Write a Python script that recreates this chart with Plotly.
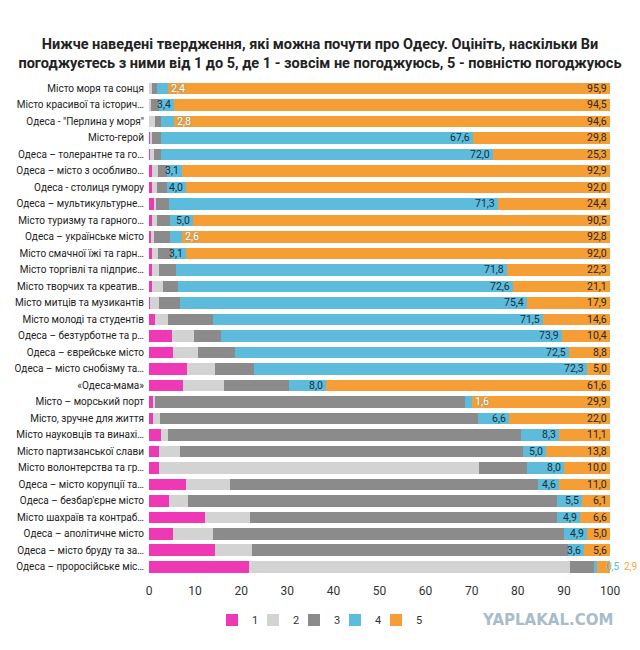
import plotly.graph_objects as go

categories = [
    "Місто моря та сонця",
    "Місто красивої та історич…",
    "Одеса - \"Перлина у моря\"",
    "Місто-герой",
    "Одеса – толерантне та го…",
    "Одеса – місто з особливо…",
    "Одеса - столиця гумору",
    "Одеса – мультикультурне…",
    "Місто туризму та гарного…",
    "Одеса – українське місто",
    "Місто смачної їжі та гарн…",
    "Місто торгівлі та підприє…",
    "Місто творчих та креатив…",
    "Місто митців та музикантів",
    "Місто молоді та студентів",
    "Одеса – безтурботне та р…",
    "Одеса – єврейське місто",
    "Одеса – місто снобізму та…",
    "«Одеса-мама»",
    "Місто – морський порт",
    "Місто, зручне для життя",
    "Місто науковців та винахі…",
    "Місто партизанської слави",
    "Місто волонтерства та гр…",
    "Одеса – місто корупції та…",
    "Одеса – безбар'єрне місто",
    "Місто шахраїв та контраб…",
    "Одеса – аполітичне місто",
    "Одеса – місто бруду та за…",
    "Одеса – проросійське міс…",
]

score_1 = [0.1, 0.0, 0.1, 0.3, 0.3, 0.7, 0.7, 1.0, 0.6, 0.6, 0.7, 0.6, 0.6, 0.3, 1.4,
           5.0, 5.3, 8.2, 7.4, 1.0, 0.9, 2.6, 2.2, 2.2, 8.0, 4.3, 12.2, 5.2, 14.3, 21.7]
score_2 = [0.6, 0.5, 1.1, 0.4, 0.7, 1.2, 1.1, 0.6, 1.2, 0.4, 1.2, 1.6, 2.4, 1.8, 2.7,
           4.7, 5.3, 6.1, 8.8, 0.3, 1.4, 1.5, 4.6, 69.4, 9.5, 4.1, 9.7, 8.6, 8.0, 69.7]
score_3 = [1.0, 1.6, 1.4, 1.9, 1.7, 2.1, 2.2, 2.7, 2.7, 3.6, 3.0, 3.7, 3.3, 4.6, 9.8,
           6.0, 8.1, 8.4, 14.2, 67.2, 69.1, 76.5, 74.4, 10.4, 66.9, 80.0, 66.6, 76.3, 68.5, 5.2]
score_4 = [2.4, 3.4, 2.8, 67.6, 72.0, 3.1, 4.0, 71.3, 5.0, 2.6, 3.1, 71.8, 72.6, 75.4, 71.5,
           73.9, 72.5, 72.3, 8.0, 1.6, 6.6, 8.3, 5.0, 8.0, 4.6, 5.5, 4.9, 4.9, 3.6, 0.5]
score_5 = [95.9, 94.5, 94.6, 29.8, 25.3, 92.9, 92.0, 24.4, 90.5, 92.8, 92.0, 22.3, 21.1, 17.9, 14.6,
           10.4, 8.8, 5.0, 61.6, 29.9, 22.0, 11.1, 13.8, 10.0, 11.0, 6.1, 6.6, 5.0, 5.6, 2.9]

series_names = ["1", "2", "3", "4", "5"]
series_values = [score_1, score_2, score_3, score_4, score_5]
colors = ["#ee38b6", "#d3d3d3", "#8b8b8b", "#5dbcdb", "#f59e35"]
tick_values = [0, 10, 20, 30, 40, 50, 60, 70, 80, 90, 100]

title_text = ("Нижче наведені твердження, які можна почути про Одесу. Оцініть, наскільки Ви<br>"
              "погоджуєтесь з ними від 1 до 5, де 1 - зовсім не погоджуюсь, 5 - повністю погоджуюсь")

LABEL_FONT = "Roboto, sans-serif"
X_MAX = 100


def fmt(v):
    return f"{v:.1f}".replace(".", ",")


fig = go.Figure()
legend_keys = ["legend", "legend2", "legend3", "legend4", "legend5"]
for name, vals, col, lg in zip(series_names, series_values, colors, legend_keys):
    fig.add_trace(go.Bar(
        y=categories, x=vals, name=name, orientation="h",
        marker=dict(color=col, line=dict(width=0)),
        hoverinfo="x+y+name", legend=lg,
    ))

annotations = []
for i, cat in enumerate(categories):
    end4 = round(score_1[i] + score_2[i] + score_3[i] + score_4[i], 3)
    end5 = min(round(end4 + score_5[i], 3), X_MAX)
    v4, v5 = score_4[i], score_5[i]
    if v4 < 1:
        annotations.append(dict(x=end5, y=cat, xref="x", yref="y", text=fmt(v4),
                                xanchor="left", xshift=-5, showarrow=False, borderpad=0,
                                font=dict(family=LABEL_FONT, size=10, color="#5dbcdb")))
        annotations.append(dict(x=end5, y=cat, xref="x", yref="y", text=fmt(v5),
                                xanchor="left", xshift=13, showarrow=False, borderpad=0,
                                font=dict(family=LABEL_FONT, size=10, color="#f0a648")))
        continue
    if v4 < 3:
        annotations.append(dict(x=end4, y=cat, xref="x", yref="y", text=fmt(v4),
                                xanchor="left", xshift=1, showarrow=False,
                                font=dict(family=LABEL_FONT, size=10.5, color="#ffffff",
                                          shadow="0px 0px 2px #3a9cc0")))
    else:
        annotations.append(dict(x=end4, y=cat, xref="x", yref="y", text=fmt(v4),
                                xanchor="right", xshift=-1, showarrow=False,
                                font=dict(family=LABEL_FONT, size=10.5, color="#17303d")))
    annotations.append(dict(x=end5, y=cat, xref="x", yref="y", text=fmt(v5),
                            xanchor="right", xshift=-1, showarrow=False,
                            font=dict(family=LABEL_FONT, size=10.5, color="#2a2a2a")))

annotations.append(dict(x=1.01, y=-0.09, xref="paper", yref="paper", text="<b>YAPLAKAL.COM</b>",
                        xanchor="right", yanchor="middle", showarrow=False,
                        font=dict(family="DejaVu Sans", size=15, color="#a9bccb")))

layout_legends = {}
for k, lg in enumerate(legend_keys):
    layout_legends[lg] = dict(
        orientation="h", x=(212 + 41 * k) / 640, xanchor="left", xref="container",
        y=1 - 620 / 650, yanchor="middle", yref="container",
        font=dict(size=11, color="#333333"), itemwidth=30,
        bgcolor="rgba(0,0,0,0)",
    )

fig.update_layout(
    width=640, height=650,
    barmode="stack", bargap=0.3,
    paper_bgcolor="white", plot_bgcolor="white",
    font=dict(family="Roboto", color="#333333"),
    margin=dict(l=149, r=30, t=80, b=75, autoexpand=False),
    title=dict(text=title_text, x=0.5, xanchor="center", xref="container",
               y=0.925, yanchor="middle", yref="container",
               font=dict(family="Roboto", size=14.5, color="#222222", weight="bold")),
    xaxis=dict(range=[0, X_MAX], tickvals=tick_values, showgrid=False, zeroline=False,
               showline=False, ticks="", ticklabelstandoff=7, automargin=False,
               tickfont=dict(size=12, color="#333333"), fixedrange=True),
    yaxis=dict(autorange="reversed", showgrid=False, zeroline=False, showline=False,
               ticks="", ticklabelstandoff=4, automargin=False,
               tickfont=dict(family=LABEL_FONT, size=10, color="#222222"),
               categoryorder="array", categoryarray=categories),
    annotations=annotations,
    showlegend=True,
    **layout_legends,
)

fig.write_html(
    "out.html",
    config={"displayModeBar": False},
    post_script="document.body.style.margin='0';document.body.style.overflow='hidden';",
)
